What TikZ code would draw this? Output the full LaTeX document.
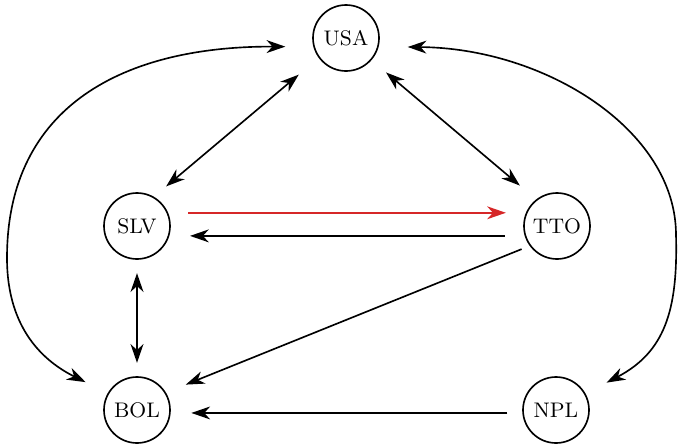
\documentclass[tikz,border=0pt]{standalone}
\usepackage[svgnames]{xcolor}
\usepackage{tikz}
\usetikzlibrary{positioning,arrows.meta}

\definecolor{linkRed}{RGB}{214,39,40}

\begin{document}
\begin{tikzpicture}[x=0.015cm, y=-0.015cm,
        country/.style={draw, circle, line width=0.7pt, minimum size=0.99cm, inner sep=0pt, font=\small},
        link/.style={line width=0.7pt, >={Stealth[length=8pt,width=5.5pt,inset=2.5pt]}}]
            \useasboundingbox (0,0) rectangle (678,444);

            \node[country] (USA) at (346,38)  {USA};
            \node[country] (SLV) at (137,226) {SLV};
            \node[country] (TTO) at (557,226) {TTO};
            \node[country] (BOL) at (137,410) {BOL};
            \node[country] (NPL) at (556,410) {NPL};

            \coordinate (lbend) at (7,258);
            \coordinate (rbend) at (676,235);

            \draw[link, <->, shorten <=0.39cm,  shorten >=0.24cm]  (USA.216) -- (SLV.60);
            \draw[link, <->, shorten <=0.285cm, shorten >=0.32cm]  (USA.319) -- (TTO.128);
            \draw[link, ->, linkRed, shorten <=0.3cm, shorten >=0.3cm] (SLV.23) -- (TTO.157);
            \draw[link, ->, shorten <=0.3cm,  shorten >=0.31cm]    (TTO.197) -- (SLV.343);
            \draw[link, <->, shorten <=0.2cm,   shorten >=0.2cm]   (SLV.south) -- (BOL.north);
            \draw[link, ->, shorten <=0.13cm,  shorten >=0.32cm]   (TTO.216) -- (BOL.31);
            \draw[link, ->, shorten <=0.225cm, shorten >=0.31cm]   (NPL.185) -- (BOL.355);

            \draw[link, <->, shorten <=0.42cm, shorten >=0.37cm]
                (USA.195) .. controls (125,46) and (7,105) .. (lbend)
                          .. controls (7,330) and (45,362) .. (BOL.150);
            \draw[link, <->, shorten <=0.435cm, shorten >=0.355cm]
                (USA.345) .. controls (545,48) and (676,130) .. (rbend)
                          .. controls (678,310) and (665,352) .. (NPL.29);
        \end{tikzpicture}
\end{document}
